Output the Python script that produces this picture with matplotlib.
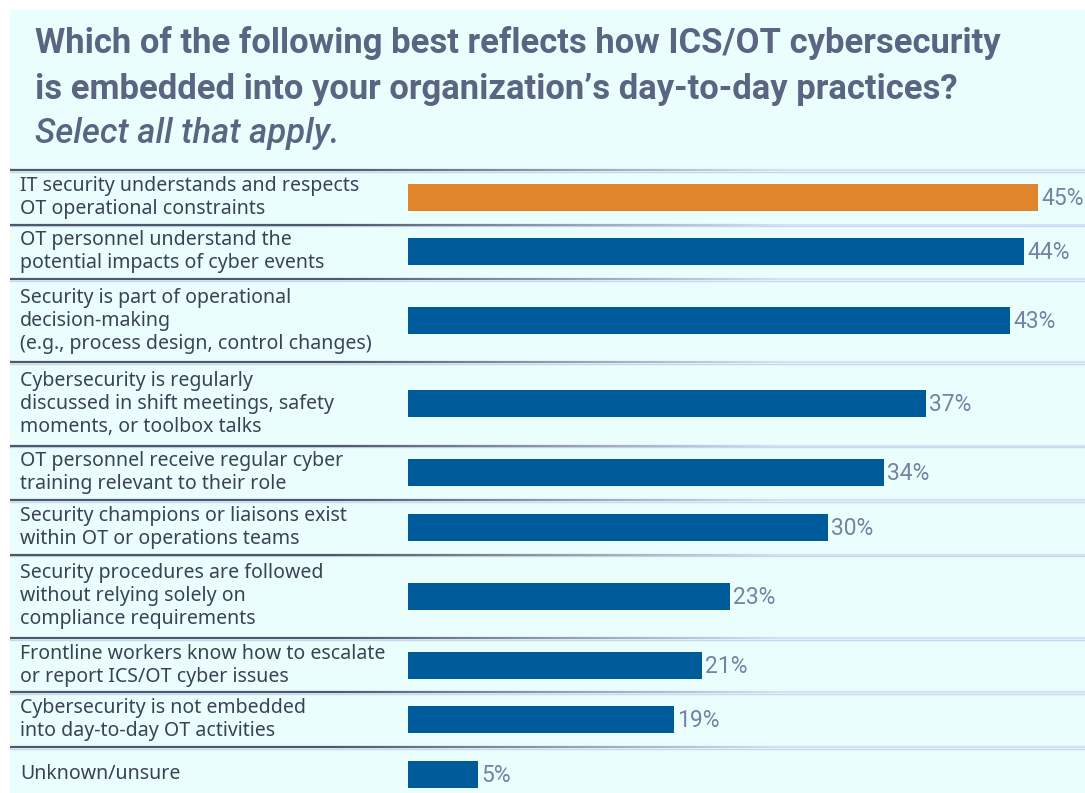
import numpy as np
import matplotlib.pyplot as plt
from matplotlib.collections import LineCollection
from matplotlib.colors import to_rgb

# survey answers, top to bottom
labels = [
    "IT security understands and respects\nOT operational constraints",
    "OT personnel understand the\npotential impacts of cyber events",
    "Security is part of operational\ndecision-making\n(e.g., process design, control changes)",
    "Cybersecurity is regularly\ndiscussed in shift meetings, safety\nmoments, or toolbox talks",
    "OT personnel receive regular cyber\ntraining relevant to their role",
    "Security champions or liaisons exist\nwithin OT or operations teams",
    "Security procedures are followed\nwithout relying solely on\ncompliance requirements",
    "Frontline workers know how to escalate\nor report ICS/OT cyber issues",
    "Cybersecurity is not embedded\ninto day-to-day OT activities",
    "Unknown/unsure",
]
values = [45, 44, 43, 37, 34, 30, 23, 21, 19, 5]

title_lines = [
    "Which of the following best reflects how ICS/OT cybersecurity",
    "is embedded into your organization\u2019s day-to-day practices?",
]
subtitle = "Select all that apply."

W, H = 1085, 793
BG = "#ebfefe"
TITLE_C = "#5b6582"
LABEL_C = "#3b4252"
VALUE_C = "#7583a3"
BLUE = "#005b9a"
ORANGE = "#e0852b"

fig = plt.figure(figsize=(W / 100, H / 100), dpi=100, facecolor="white")
bg = fig.add_axes([0, 0, 1, 1])
bg.set_xlim(0, W)
bg.set_ylim(H, 0)
bg.axis("off")
bg.add_patch(plt.Rectangle((10, 10), W, H, color=BG, zorder=0))

renderer = fig.canvas.get_renderer()


def fit_width(t, target):
    bb = t.get_window_extent(renderer)
    t.set_fontsize(t.get_fontsize() * target / bb.width)
    return t.get_fontsize()


# title
t1 = bg.text(35, 43, title_lines[0], fontsize=20, fontweight="bold", color=TITLE_C,
             family="Roboto", va="center", ha="left")
tsize = fit_width(t1, 965)
bg.text(35, 89, title_lines[1], fontsize=tsize, fontweight="bold", color=TITLE_C,
        family="Roboto", va="center", ha="left")
bg.text(35, 134, subtitle, fontsize=tsize, fontstyle="italic", fontweight="medium",
        color=TITLE_C, family="Roboto", va="center", ha="left")

# row layout: height depends on how many text lines the label has
top = 170
heights = [83.3 if lab.count("\n") == 2 else 54.5 for lab in labels]
edges = top + np.concatenate([[0], np.cumsum(heights)])
centers = (edges[:-1] + edges[1:]) / 2


def separator(y):
    xs = np.linspace(10, W, 200)
    segs = [[(xs[i], y), (xs[i + 1], y)] for i in range(len(xs) - 1)]
    dark, light = np.array(to_rgb("#4f576b")), np.array(to_rgb("#d6e0f6"))
    f = np.clip((xs[:-1] - 330) / 450, 0, 1)[:, None]
    cols = dark * (1 - f) + light * f
    bg.add_collection(LineCollection(segs, colors=cols, linewidths=1.6, zorder=2))
    bg.plot([10, W], [y + 1.6, y + 1.6], color="#c9d6f2", lw=1.0, zorder=1)


for y in edges[:-1]:
    separator(y)

# category labels, one line at a time
probe = bg.text(20, 0, labels[0].split("\n")[0], fontsize=13, family="Noto Sans")
lsize = fit_width(probe, 340)
probe.remove()
line_gap = 23
for lab, c in zip(labels, centers):
    parts = lab.split("\n")
    for i, p in enumerate(parts):
        bg.text(20, c + (i - (len(parts) - 1) / 2) * line_gap, p, fontsize=lsize,
                family="Noto Sans", color=LABEL_C, va="center", ha="left")

# bars
x0 = 408
px_per_pct = 14
ax = fig.add_axes([x0 / W, 0, (W - x0) / W, (H - top) / H])
ax.set_xlim(0, (W - x0) / px_per_pct)
ax.set_ylim(H, top)
ax.axis("off")
colors = [ORANGE] + [BLUE] * (len(values) - 1)
ax.barh(centers, values, height=27, color=colors, zorder=3)
for v, c in zip(values, centers):
    ax.text(v + 0.25, c + 1, f"{v}%", fontsize=16.5, family="Roboto", color=VALUE_C,
            va="center", ha="left")

fig.savefig("out.png", dpi=100, facecolor="white")
